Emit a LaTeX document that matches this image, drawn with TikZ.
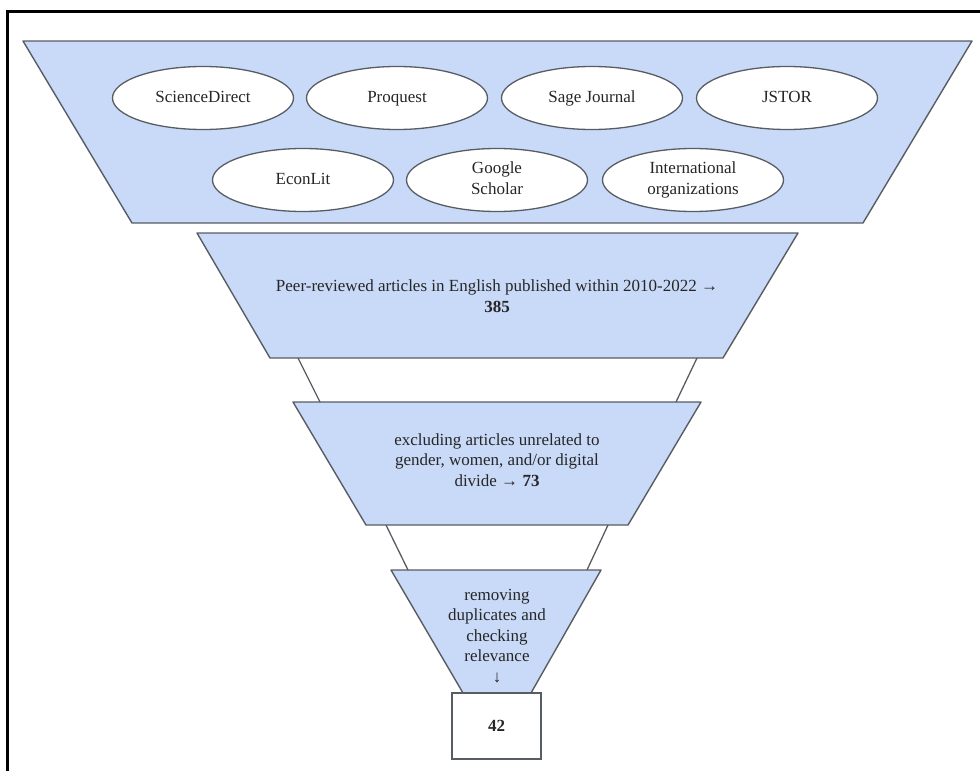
\documentclass[tikz,border=0pt]{standalone}
\usepackage{fontspec}
\setmainfont{Liberation Serif}
\usepackage{tikz}
\usetikzlibrary{shapes.geometric}
\definecolor{funnelblue}{HTML}{C9DAF8}
\definecolor{funneledge}{HTML}{585C63}

\begin{document}
\begin{tikzpicture}[x=1pt, y=-1pt,
  stage/.style={fill=funnelblue, draw=funneledge, line width=1.4pt, line join=round},
  source/.style={ellipse, draw=funneledge, fill=white, line width=1.3pt, minimum width=181pt, minimum height=63pt, inner sep=0pt, align=center, font=\fontsize{17}{20.5}\selectfont, text=black!85},
  label/.style={align=center, font=\fontsize{17}{20.5}\selectfont, text=black!85}]
\useasboundingbox (0,0) rectangle (980,771);
\draw [line width=3pt] (7,771) -- (7,11) -- (980,11);
% funnel stages
\draw [stage] (23,41) -- (972,41) -- (863,223) -- (132,223) -- cycle;
\draw [stage] (197,233) -- (798,233) -- (723,358) -- (270,358) -- cycle;
\draw [stage] (293,402) -- (701,402) -- (628,525) -- (366,525) -- cycle;
\draw [stage] (391,570) -- (601,570) -- (531,693) -- (463,693) -- cycle;
% links between stages
\draw [funneledge, line width=1.3pt] (298,358) -- (320,402);
\draw [funneledge, line width=1.3pt] (697,358) -- (676,402);
\draw [funneledge, line width=1.3pt] (386,525) -- (408,570);
\draw [funneledge, line width=1.3pt] (608,525) -- (587,570);
% sources
\node [source] (sd) at (203,98) {ScienceDirect\strut};
\node [source] (pq) at (397,98) {Proquest\strut};
\node [source] (sj) at (592,98) {Sage Journal\strut};
\node [source] (js) at (787,98) {JSTOR\strut};
\node [source] (el) at (303,180) {EconLit\strut};
\node [source] (gs) at (497,180) {Google\strut\\Scholar\strut};
\node [source] (io) at (693,180) {International\strut\\organizations\strut};
% stage texts
\node [label] (peer) at (497,296) {Peer-reviewed articles in English published within 2010-2022 →\\\textbf{385}};
\node [label] (excl) at (497,460) {excluding articles unrelated to\\gender, women, and/or digital\\divide → \textbf{73}};
\node [label] (dup) at (497,636) {removing\\duplicates and\\checking\\relevance\\↓};
\node [label, draw=funneledge, fill=white, line width=1.3pt, minimum width=89pt, minimum height=66pt] (final) at (496.5,726) {\textbf{42}};
\end{tikzpicture}
\end{document}
